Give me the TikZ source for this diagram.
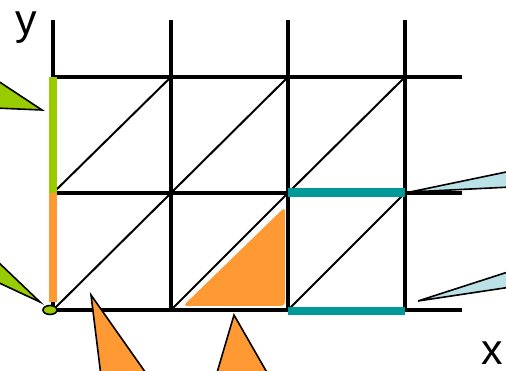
\documentclass[tikz,border=0pt]{standalone}
\usepackage{fontspec}
\usetikzlibrary{shapes.geometric}
\setmainfont{Liberation Sans}
\definecolor{lgreen}{RGB}{153,204,0}
\definecolor{lorange}{RGB}{255,153,51}
\definecolor{lteal}{RGB}{0,153,153}
\definecolor{lblue}{RGB}{185,225,230}
\begin{document}
\begin{tikzpicture}[x=1pt,y=-1pt,
  gridline/.style={line width=3.2pt,black},
  diag/.style={line width=2pt,black},
  bar/.style={line width=8pt},
  callout/.style={draw=black,line width=1.6pt,line join=miter}]
\useasboundingbox (0,0) rectangle (506,371);
\clip (0,0) rectangle (506,371);
% grid coordinates
\foreach \i/\x in {0/53,1/171,2/288,3/405}{
  \foreach \j/\y in {0/310,1/193,2/77}{
    \coordinate (p\i\j) at (\x,\y);
  }
  \coordinate (t\i) at (\x,20);
}
\coordinate (e0) at (462,310);
\coordinate (e1) at (462,193);
\coordinate (e2) at (462,77);
% orange filled triangle
\fill[lorange,rounded corners=4pt] (183,306) -- (285,306) -- (285,207) -- cycle;
% vertical lines
\foreach \i in {0,1,2,3}{\draw[gridline] (p\i0) -- (t\i);}
% horizontal lines
\foreach \j in {0,1,2}{\draw[gridline] (p0\j) -- (e\j);}
% diagonals
\foreach \i/\k in {0/1,1/2,2/3}{
  \draw[diag] (p\i0) -- (p\k1);
  \draw[diag] (p\i1) -- (p\k2);
}
% coloured bars
\draw[bar,lgreen,line width=7.5pt] (p02) -- (p01);
\draw[bar,lorange,line width=7.5pt] (p01) -- ([yshift=8pt]p00);
\draw[bar,lteal,line width=9pt] (p21) -- (p31);
\draw[bar,lteal] ([yshift=-1.5pt]p20) -- ([yshift=-1.5pt]p30);
% origin point
\node[ellipse,draw=black,fill=lgreen,line width=1.6pt,minimum width=14pt,minimum height=9pt,inner sep=0pt] (o) at (50,310) {};
% callout pointers
\draw[callout,fill=lgreen] (-5,79) -- (42,110) -- (-5,108) -- cycle;
\draw[callout,fill=lgreen] (-5,259) -- (40,302) -- (-5,281) -- cycle;
\draw[callout,fill=lorange] (91,295) -- (148,376) -- (101,376) -- cycle;
\draw[callout,fill=lorange] (234,315) -- (269,376) -- (216,376) -- cycle;
\draw[callout,fill=lblue] (410,192) -- (511,171) -- (511,187) -- cycle;
\draw[callout,fill=lblue] (418,301) -- (511,271) -- (511,287) -- cycle;
% labels
\node[anchor=base west,inner sep=0pt,font=\fontsize{43}{43}\selectfont] (ly) at (15,35) {y};
\node[anchor=base west,inner sep=0pt,font=\fontsize{43}{43}\selectfont] (lx) at (481,364) {x};
\end{tikzpicture}
\end{document}
